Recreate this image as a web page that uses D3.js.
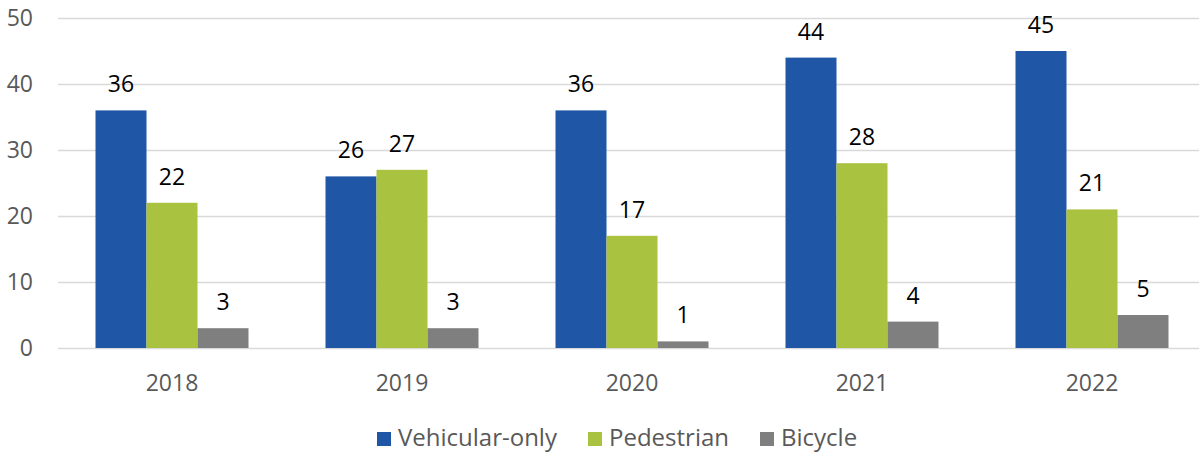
<!DOCTYPE html>
<html>
<head>
<meta charset="utf-8">
<script src="https://cdn.jsdelivr.net/npm/d3@7"></script>
<style>
  body { margin: 0; background: #fff; }
  svg { display: block; font-family: "Open Sans", "Noto Sans", sans-serif; }
</style>
</head>
<body>
<svg id="chart" width="1199" height="453"></svg>
<script>
// Data
const years = ["2018", "2019", "2020", "2021", "2022"];
const seriesNames = ["Vehicular-only", "Pedestrian", "Bicycle"];
const vehicular = [36, 26, 36, 44, 45];
const pedestrian = [22, 27, 17, 28, 21];
const bicycle = [3, 3, 1, 4, 5];
const yTicks = [0, 10, 20, 30, 40, 50];

const seriesValues = [vehicular, pedestrian, bicycle];
const colors = ["#1f56a6", "#a9c23f", "#7f7f7f"];

const svg = d3.select("#chart");

const x = d3.scaleBand()
  .domain(years)
  .range([57, 1207]);

const xInner = d3.scaleBand()
  .domain(seriesNames)
  .range([0, x.bandwidth()])
  .paddingInner(0)
  .paddingOuter(0.755);

const y = d3.scaleLinear()
  .domain([0, 50])
  .range([348, 18]);

// ---------- GRID ----------
svg.append("g")
  .selectAll("line")
  .data(yTicks)
  .join("line")
  .attr("x1", 58)
  .attr("x2", 1199)
  .attr("y1", d => Math.round(y(d)) + 0.5)
  .attr("y2", d => Math.round(y(d)) + 0.5)
  .attr("stroke", "#d9d9d9")
  .attr("stroke-width", 1.5);

// y tick labels
svg.append("g")
  .selectAll("text")
  .data(yTicks)
  .join("text")
  .attr("x", 33)
  .attr("y", d => y(d))
  .attr("dy", "0.35em")
  .attr("text-anchor", "end")
  .attr("fill", "#595959")
  .style("font-size", "23px")
  .text(d => d);

// x labels
svg.append("g")
  .selectAll("text")
  .data(years)
  .join("text")
  .attr("x", d => x(d) + x.bandwidth() / 2)
  .attr("y", 391)
  .attr("text-anchor", "middle")
  .attr("fill", "#595959")
  .style("font-size", "23px")
  .text(d => d);

// ---------- BARS ----------
const groups = svg.append("g")
  .selectAll("g")
  .data(years)
  .join("g")
  .attr("transform", d => `translate(${x(d)},0)`);

groups.selectAll("rect")
  .data((d, i) => seriesNames.map((s, j) => ({ s, j, v: seriesValues[j][i] })))
  .join("rect")
  .attr("x", d => xInner(d.s))
  .attr("width", xInner.bandwidth())
  .attr("y", d => y(d.v))
  .attr("height", d => y(0) - y(d.v))
  .attr("fill", d => colors[d.j]);

groups.selectAll("text")
  .data((d, i) => seriesNames.map((s, j) => ({ s, j, v: seriesValues[j][i] })))
  .join("text")
  .attr("x", d => xInner(d.s) + xInner.bandwidth() / 2)
  .attr("y", d => y(d.v) - 18)
  .attr("text-anchor", "middle")
  .attr("fill", "#000")
  .style("font-size", "23px")
  .text(d => d.v);

// ---------- LEGEND ----------
const legendX = [377, 588, 760];
const legend = svg.append("g")
  .selectAll("g")
  .data(seriesNames)
  .join("g")
  .attr("transform", (d, i) => `translate(${legendX[i]},432)`);

legend.append("rect")
  .attr("width", 14)
  .attr("height", 14)
  .attr("fill", (d, i) => colors[i]);

legend.append("text")
  .attr("x", 21)
  .attr("y", 14)
  .attr("fill", "#595959")
  .style("font-size", "24px")
  .text(d => d);
</script>
</body>
</html>
